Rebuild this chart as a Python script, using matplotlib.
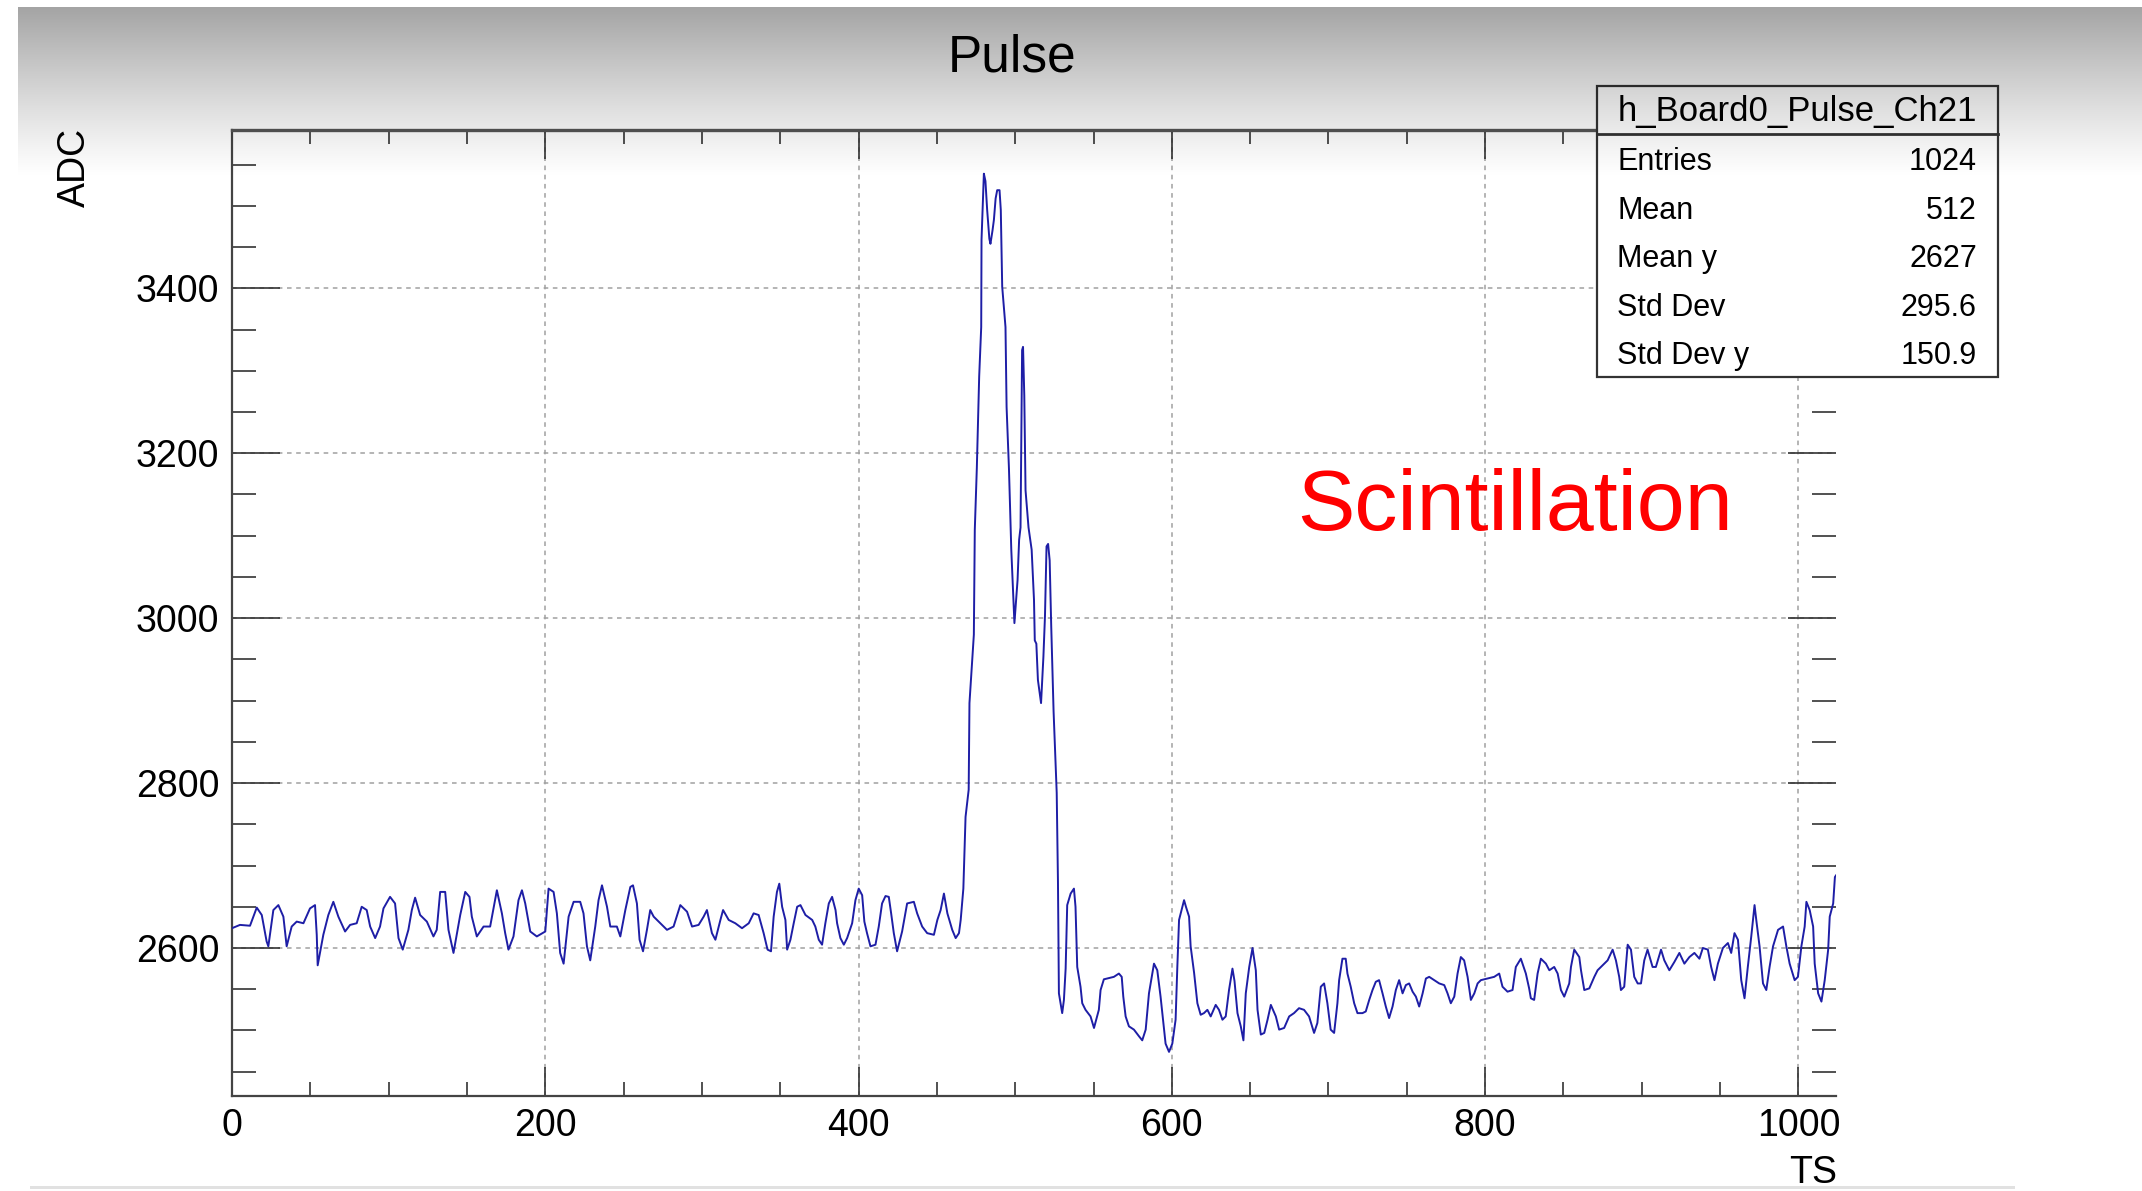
import numpy as np
import matplotlib
matplotlib.use("Agg")
import matplotlib.pyplot as plt
from matplotlib.patches import Rectangle
from matplotlib.lines import Line2D

plt.rcParams['font.family'] = ['Liberation Sans', 'DejaVu Sans']

# ---------------- data ----------------
ts = [0, 5.1, 11.5, 15.8, 19.0, 22.1, 23.2, 26.4, 29.6, 32.8, 34.9, 38.1, 41.3, 45.6, 49.8, 53.0, 54.1, 54.7,
      58.3, 61.5, 64.7, 67.9, 72.2, 75.4, 79.6, 82.8, 86.0, 88.2, 91.4, 94.5, 96.7, 100.9, 104.1, 106.3, 109.0,
      112.6, 114.8, 116.9, 120.1, 124.4, 128.6, 130.7, 132.9, 136.1, 138.2, 141.4, 145.7, 148.9, 151.6, 153.1,
      156.3, 160.6, 164.8, 169.1, 172.3, 174.4, 176.5, 179.7, 182.9, 185.1, 187.2, 190.4, 194.6, 200.0, 202.1,
      205.3, 207.4, 209.5, 211.7, 214.9, 218.1, 222.3, 224.4, 226.6, 228.7, 231.9, 234.0, 236.2, 239.4, 241.5,
      245.7, 247.9, 251.1, 254.3, 256.0, 258.5, 260.2, 262.4, 264.9, 267.0, 269.2, 273.4, 277.7, 281.9, 286.2,
      290.5,
      293.7, 297.9, 301.1, 303.2, 306.4, 308.6, 311.8, 313.5, 317.1, 321.3, 325.6, 329.9, 333.0, 336.2, 339.4,
      341.9, 344.1, 345.8, 347.9, 349.4, 351.2, 353.3, 354.4, 356.5, 358.6, 360.8, 362.9, 366.1, 370.4, 372.4,
      374.6, 376.7, 378.8, 381.0, 383.1, 385.3, 386.3, 388.4, 390.6, 392.7, 395.9, 398.0, 400.1, 402.3, 403.7,
      405.4, 407.6, 410.8, 412.9, 415.0, 417.2, 419.3, 420.8, 422.5, 424.6, 427.8, 431.0, 435.3, 437.4, 440.6,
      443.8, 448.1, 450.3, 452.4, 454.5, 456.7, 459.8, 462.0, 464.1, 465.2, 466.9,
      468.3, 470.3, 470.8, 473.6, 474.2, 475.5, 477.0, 478.3, 478.5, 480.0, 481.0, 482.1, 483.5, 484.2, 485.5,
      486.4, 487.5, 488.5, 490.0, 490.8, 491.7, 493.8, 494.5, 496.0, 497.5, 499.5, 501.5, 502.5, 503.4, 504.4,
      505.0, 505.8, 506.6, 508.5, 510.5, 512.0, 512.5, 513.5, 514.5, 516.5, 518.0, 519.0, 520.0, 521.0, 522.0,
      523.0, 524.5, 526.5, 527.3, 527.6, 527.9,
      530.0, 531.1, 532.2, 533.2, 535.4, 537.5, 538.5, 539.6, 541.7, 542.8, 544.9, 548.1, 550.3, 553.4, 554.5,
      556.6, 558.8, 563.0, 566.2, 568.0, 569.0, 570.5, 572.6, 575.8, 579.0, 581.1, 583.3, 585.4, 588.6, 590.7,
      592.8, 593.9, 596.0, 598.2, 600.3, 602.4, 603.5, 604.6, 607.8, 609.0, 611.0, 612.0, 614.2, 616.3, 618.4,
      620.5, 622.7, 624.8, 628.0, 630.1, 632.3, 634.4, 636.5, 638.7, 640.0, 641.9, 644.0, 645.7, 647.2, 649.4,
      651.5, 653.6, 654.7, 656.8, 659.0, 661.1, 663.2, 666.4, 668.5, 671.7, 674.9, 678.0, 681.2,
      684.4, 687.6, 690.8, 692.9, 695.1, 697.2, 699.3, 701.4, 703.6, 705.7, 706.8, 708.9, 711.0, 712.1, 714.2,
      716.4, 718.5, 721.7, 723.8, 726.0, 728.1, 730.2, 732.3, 734.5, 736.6, 738.7, 740.9, 743.0, 745.1, 747.3,
      749.4, 751.5, 753.7, 755.8, 757.9, 760.1, 762.2, 764.3, 767.5, 770.7, 773.9, 776.0, 778.1, 780.3, 782.4,
      784.5, 786.6, 788.8, 790.9, 793.1, 795.2,
      797.3, 801.5, 805.8, 809.0, 811.1, 814.3, 817.5, 819.6, 822.8, 826.0, 828.1, 829.2, 831.3, 833.5, 835.6,
      838.8, 841.0, 844.1, 846.3, 848.4, 850.5, 853.7, 854.8, 856.9, 860.1, 861.2, 863.3, 866.5, 869.7, 871.8,
      875.0, 878.2, 881.4, 883.5, 885.6, 886.7, 888.8, 891.0, 893.1, 895.2, 897.4, 899.5, 901.6, 903.7, 906.9,
      909.0, 912.3, 914.4, 917.6, 920.8, 924.0, 927.2, 930.4, 933.6, 936.8, 939.0, 942.2, 944.3, 946.4, 948.6,
      951.8, 955.0, 957.1, 959.2, 961.4, 963.5, 965.6, 967.7, 969.9, 972.0, 973.1, 975.2, 977.4, 979.5, 981.6,
      983.8, 987.0, 990.2, 992.3, 994.4, 997.6, 999.7, 1001.9, 1004.0, 1005.1, 1007.2, 1009.4, 1010.4, 1012.6,
      1014.7, 1016.8, 1019.0, 1020.0, 1022.2, 1023.3, 1024.0]

adc = [2624, 2628, 2627, 2649, 2640, 2608, 2602, 2646, 2652, 2638, 2602, 2626, 2632, 2630, 2648, 2652, 2616, 2579,
       2616, 2640, 2656, 2638, 2620, 2628, 2630, 2650, 2646, 2626, 2612, 2626, 2648, 2662, 2654, 2612, 2598,
       2622, 2646, 2661, 2640, 2632, 2614, 2622, 2668, 2668, 2622, 2594, 2640, 2668, 2662, 2638,
       2614, 2626, 2626, 2670, 2642, 2618, 2598, 2614, 2658, 2670, 2654, 2620, 2614, 2620, 2672,
       2668, 2642, 2594, 2581, 2638, 2656, 2656, 2642, 2602, 2585, 2626, 2658, 2676, 2650, 2626,
       2626, 2614, 2646, 2674, 2676, 2654, 2610, 2596, 2622, 2646, 2638, 2630, 2622, 2626, 2652,
       2644,
       2626, 2628, 2638, 2646, 2618, 2610, 2634, 2646, 2634, 2630, 2624, 2630, 2642, 2640, 2618,
       2598, 2596, 2638, 2668, 2678, 2650, 2634, 2598, 2610, 2630, 2650, 2652, 2640, 2634, 2626,
       2610, 2604, 2630, 2654, 2662, 2646, 2630, 2612, 2604, 2612, 2630, 2658, 2672, 2664, 2632,
       2618, 2602, 2604, 2626, 2654, 2663, 2662, 2642, 2618, 2596, 2620, 2654, 2656, 2642, 2626,
       2618, 2616, 2634, 2646, 2666, 2642, 2622, 2612, 2618, 2634, 2672,
       2759, 2792, 2897, 2980, 3107, 3182, 3293, 3353, 3459, 3539, 3530, 3495, 3460, 3454, 3470,
       3483, 3509, 3519, 3519, 3495, 3402, 3353, 3256, 3182, 3083, 2994, 3046, 3095, 3110, 3325,
       3329, 3270, 3155, 3110, 3083, 3022, 2973, 2969, 2925, 2897, 2953, 3002, 3087, 3090, 3070,
       2990, 2887, 2788, 2680, 2606, 2545,
       2521, 2537, 2575, 2652, 2666, 2672, 2650, 2577, 2553, 2533, 2525, 2517, 2503, 2525, 2549,
       2562, 2563, 2565, 2569, 2565, 2541, 2517, 2505, 2501, 2493, 2488, 2501, 2545, 2581, 2573,
       2541, 2521, 2484, 2474, 2484, 2513, 2577, 2634, 2658, 2650, 2638, 2602, 2570, 2533, 2519,
       2521, 2525, 2517, 2531, 2525, 2513, 2517, 2549, 2575, 2560, 2521, 2505, 2488, 2545, 2577,
       2600, 2573, 2525, 2495, 2497, 2513, 2531, 2517, 2501, 2503, 2517, 2521, 2527,
       2525, 2517, 2497, 2509, 2553, 2557, 2533, 2501, 2497, 2533, 2561, 2587, 2587, 2569, 2553,
       2533, 2521, 2521, 2523, 2537, 2549, 2559, 2561, 2545, 2529, 2515, 2529, 2549, 2561, 2545,
       2555, 2557, 2547, 2541, 2529, 2545, 2563, 2565, 2561, 2557, 2555, 2545, 2533, 2541, 2569,
       2589, 2585, 2565, 2537, 2545, 2557,
       2561, 2563, 2565, 2569, 2553, 2547, 2549, 2577, 2587, 2569, 2551, 2539, 2537, 2569, 2587,
       2581, 2573, 2577, 2569, 2549, 2541, 2557, 2577, 2598, 2589, 2573, 2549, 2551, 2565, 2573,
       2579, 2585, 2598, 2585, 2565, 2549, 2553, 2604, 2598, 2565, 2557, 2557, 2585, 2598, 2577,
       2577, 2598, 2585, 2573, 2583, 2594, 2581, 2589, 2594, 2587, 2600, 2598, 2577, 2561, 2581,
       2600, 2606, 2594, 2618, 2610, 2561, 2539, 2577, 2614, 2652, 2634, 2602, 2557, 2549, 2577,
       2602, 2622, 2626, 2602, 2581, 2561, 2565, 2602, 2626, 2656, 2646, 2626, 2581, 2545,
       2535, 2561, 2598, 2638, 2654, 2686, 2688]

x_major = [0, 200, 400, 600, 800, 1000]
y_major = [2600, 2800, 3000, 3200, 3400]

stat_names = ["Entries", "Mean", "Mean y", "Std Dev", "Std Dev y"]
stat_values = ["1024", "512", "2627", "295.6", "150.9"]
hist_name = "h_Board0_Pulse_Ch21"

# ---------------- figure ----------------
W, H = 2142, 1191
fig = plt.figure(figsize=(W / 100, H / 100), dpi=100)
fig.patch.set_facecolor('white')

def fx(px):
    return px / W

def fy(py):
    return 1 - py / H

ax = fig.add_axes([fx(232), fy(1096), fx(1836) - fx(232), fy(130) - fy(1096)])
ax.set_facecolor('white')
ax.plot(ts, adc, color='#1e1ea6', lw=1.4, zorder=3)
ax.set_xlim(0, 1024)
ax.set_ylim(2420.5, 3592)

ax.set_xticks(x_major)
ax.set_xticks(np.arange(0, 1025, 50), minor=True)
ax.set_yticks(y_major)
ax.set_yticks(np.arange(2450, 3592, 50), minor=True)
ax.grid(True, which='major', color='#a0a0a0', linestyle=(0, (3, 3)), lw=1.1)
ax.set_axisbelow(True)

ax.tick_params(axis='both', which='both', direction='in', top=True, right=True,
               colors='#333333', labelcolor='black', labelsize=27, width=1.2)
ax.tick_params(axis='y', which='major', length=34.5, pad=9)
ax.tick_params(axis='y', which='minor', length=17.3)
ax.tick_params(axis='x', which='major', length=21, pad=9)
ax.tick_params(axis='x', which='minor', length=10.4)
for s in ['left', 'bottom']:
    ax.spines[s].set_color('#444444')
    ax.spines[s].set_linewidth(1.6)
ax.spines['top'].set_color('#555555')
ax.spines['top'].set_linewidth(2.4)
ax.spines['right'].set_visible(False)

# titles
fig.text(fx(1012), fy(71), "Pulse", fontsize=37, ha='center', va='baseline')
fig.text(fx(75), fy(128), "ADC", fontsize=27, rotation=90, ha='center', va='top')
fig.text(fx(1837), fy(1183), "TS", fontsize=27, ha='right', va='baseline')
fig.text(fx(1515), fy(530), "Scintillation", fontsize=62, color='#ff0000',
         ha='center', va='baseline')

# stats box
bx0, bx1, by0, by1 = 1597, 1998, 86, 377
box = Rectangle((fx(bx0), fy(by1)), fx(bx1) - fx(bx0), fy(by0) - fy(by1),
                transform=fig.transFigure, facecolor='white', edgecolor='#333333',
                lw=1.6, zorder=5)
fig.patches.append(box)
fig.lines.append(Line2D([fx(bx0), fx(bx1)], [fy(134), fy(134)], transform=fig.transFigure,
                        color='#333333', lw=2.0, zorder=6))
fig.text(fx((bx0 + bx1) / 2), fy(111), hist_name, fontsize=25, ha='center', va='center', zorder=7)
row_y = [162, 211, 259, 308, 356]
for name, val, ry in zip(stat_names, stat_values, row_y):
    fig.text(fx(1617), fy(ry), name, fontsize=22, ha='left', va='center', zorder=7)
    fig.text(fx(1977), fy(ry), val, fontsize=22, ha='right', va='center', zorder=7)

# slide shading overlay (darkening gradient at the top of the picture)
ov = fig.add_axes([0, 0, 1, 1], zorder=20)
ov.set_axis_off()
alpha = np.zeros((H, W))
yy = np.arange(H)
grad = np.clip((178 - yy) / (178 - 7), 0, 1) ** 1.15 * 0.36
grad[:7] = 0
alpha[:, :] = grad[:, None]
alpha[:, :18] = 0
rgba = np.zeros((H, W, 4))
rgba[..., 3] = alpha
# thin light line at the bottom of the slide
rgba[1186:1189, 30:2015, 3] = 0.12
ov.imshow(rgba, extent=[0, W, H, 0], aspect='auto', interpolation='nearest')
ov.set_xlim(0, W)
ov.set_ylim(H, 0)

fig.savefig("out.png", dpi=100)
